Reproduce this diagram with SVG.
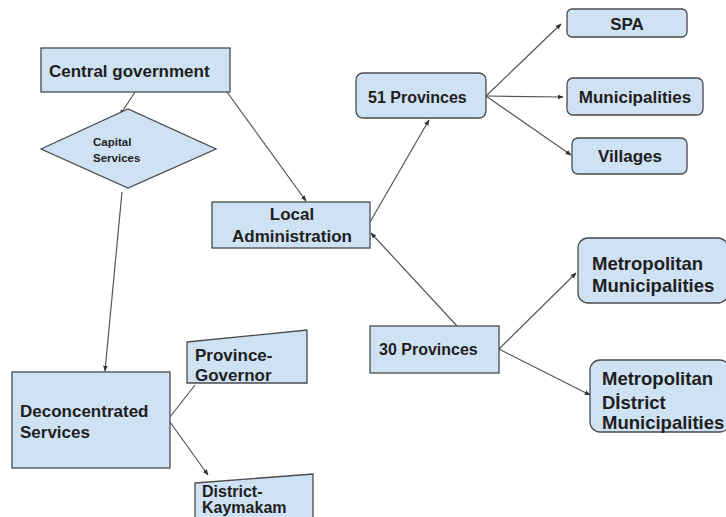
<svg xmlns="http://www.w3.org/2000/svg" width="726" height="517" viewBox="0 0 726 517">
  <style>
    .box { fill: #cfe2f3; stroke: #4a4a4a; stroke-width: 1.3; }
    .lbl { font-family: "Liberation Sans", Arial, sans-serif; font-weight: bold; fill: #1e1e1e; }
    .edge { fill: none; stroke: #555; stroke-width: 1.2; }
  </style>
  <defs>
    <marker id="arrow" viewBox="0 0 10 10" refX="9" refY="5" markerWidth="6" markerHeight="6" orient="auto-start-reverse" markerUnits="userSpaceOnUse">
      <path d="M0,1 L10,5 L0,9 z" fill="#333"/>
    </marker>
  </defs>
  <rect width="726" height="517" fill="#ffffff"/>

  <g id="connectors">
    <line class="edge" x1="135" y1="92" x2="120" y2="115" marker-end="url(#arrow)"/>
    <line class="edge" x1="227" y1="92" x2="306" y2="201" marker-end="url(#arrow)"/>
    <line class="edge" x1="122" y1="192" x2="105" y2="371" marker-end="url(#arrow)"/>
    <line class="edge" x1="370" y1="222" x2="429" y2="120" marker-end="url(#arrow)"/>
    <line class="edge" x1="457" y1="326" x2="371" y2="233" marker-end="url(#arrow)"/>
    <line class="edge" x1="486" y1="96" x2="561" y2="24" marker-end="url(#arrow)"/>
    <line class="edge" x1="486" y1="96" x2="563" y2="97" marker-end="url(#arrow)"/>
    <line class="edge" x1="486" y1="96" x2="571" y2="155" marker-end="url(#arrow)"/>
    <line class="edge" x1="499" y1="349" x2="576" y2="273" marker-end="url(#arrow)"/>
    <line class="edge" x1="499" y1="349" x2="590" y2="395" marker-end="url(#arrow)"/>
    <line class="edge" x1="170" y1="417" x2="195" y2="385"/>
    <line class="edge" x1="170" y1="422" x2="208" y2="475" marker-end="url(#arrow)"/>
  </g>

  <g id="central-government">
    <rect class="box" x="41" y="48" width="189" height="44"/>
    <text class="lbl" x="49" y="77" font-size="17">Central government</text>
  </g>

  <g id="capital-services">
    <polygon class="box" points="41,149 128,109 216,149 128,188"/>
    <text class="lbl" x="93" y="146" font-size="11.5">Capital</text>
    <text class="lbl" x="93" y="162" font-size="11.5">Services</text>
  </g>

  <g id="local-administration">
    <rect class="box" x="212" y="202" width="158" height="46"/>
    <text class="lbl" x="292" y="220" font-size="17" text-anchor="middle">Local</text>
    <text class="lbl" x="292" y="242" font-size="17" text-anchor="middle">Administration</text>
  </g>

  <g id="provinces-51">
    <rect class="box" x="356" y="73" width="130" height="45" rx="7"/>
    <text class="lbl" x="368" y="103" font-size="16">51 Provinces</text>
  </g>

  <g id="spa">
    <rect class="box" x="567" y="9" width="120" height="28" rx="5"/>
    <text class="lbl" x="627" y="30" font-size="17" text-anchor="middle">SPA</text>
  </g>

  <g id="municipalities">
    <rect class="box" x="567" y="78" width="136" height="37" rx="6"/>
    <text class="lbl" x="635" y="103" font-size="17" text-anchor="middle">Municipalities</text>
  </g>

  <g id="villages">
    <rect class="box" x="572" y="138" width="115" height="36" rx="6"/>
    <text class="lbl" x="630" y="162" font-size="17" text-anchor="middle">Villages</text>
  </g>

  <g id="provinces-30">
    <rect class="box" x="370" y="326" width="129" height="47"/>
    <text class="lbl" x="379" y="355" font-size="16">30 Provinces</text>
  </g>

  <g id="metropolitan-municipalities">
    <rect class="box" x="578" y="238" width="150" height="65" rx="10"/>
    <text class="lbl" x="592" y="270" font-size="18.5">Metropolitan</text>
    <text class="lbl" x="592" y="292" font-size="18.5">Municipalities</text>
  </g>

  <g id="metropolitan-district-municipalities">
    <rect class="box" x="590" y="360" width="140" height="72" rx="10"/>
    <text class="lbl" x="602" y="385" font-size="18.5">Metropolitan</text>
    <text class="lbl" x="602" y="409" font-size="18.5">Dİstrict</text>
    <text class="lbl" x="602" y="429" font-size="18.5">Municipalities</text>
  </g>

  <g id="deconcentrated-services">
    <rect class="box" x="12" y="372" width="158" height="96"/>
    <text class="lbl" x="20" y="417" font-size="17">Deconcentrated</text>
    <text class="lbl" x="20" y="438" font-size="17">Services</text>
  </g>

  <g id="province-governor">
    <polygon class="box" points="187,342 307,330 307,383 187,383"/>
    <text class="lbl" x="195" y="361" font-size="17">Province-</text>
    <text class="lbl" x="195" y="381" font-size="17">Governor</text>
  </g>

  <g id="district-kaymakam">
    <polygon class="box" points="195,483 313,474 313,520 195,520"/>
    <text class="lbl" x="202" y="497" font-size="16">District-</text>
    <text class="lbl" x="202" y="513" font-size="16">Kaymakam</text>
  </g>
</svg>
